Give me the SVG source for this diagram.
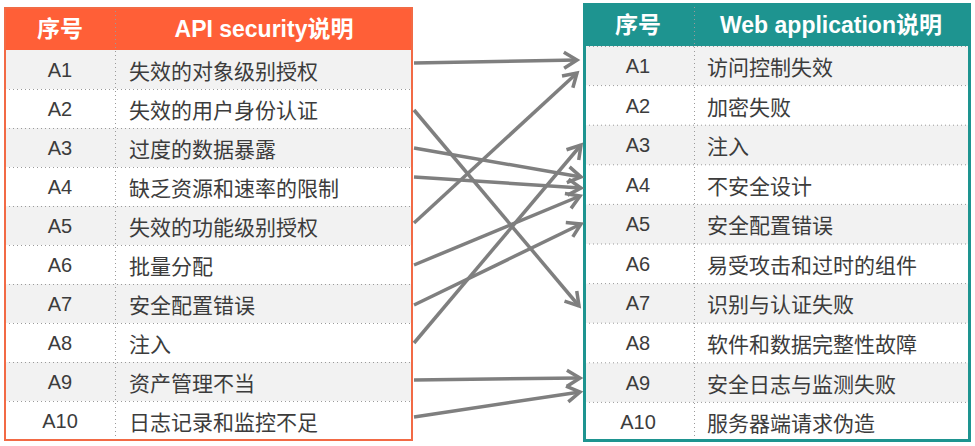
<svg xmlns="http://www.w3.org/2000/svg" width="975" height="446" viewBox="0 0 975 446">
<style>
.hd{font-family:"Liberation Sans","Noto Sans CJK SC",sans-serif;font-weight:bold;font-size:23px;fill:#fff;text-anchor:middle;dominant-baseline:central}
.id{font-family:"Liberation Sans",Arial,sans-serif;font-size:20px;fill:#3c3c3c;text-anchor:middle;dominant-baseline:central}
.tx{font-family:"Noto Sans CJK SC",sans-serif;font-size:21px;fill:#3c3c3c;dominant-baseline:central}
.odd{fill:#f2f2f2}
.even{fill:#ffffff}
.sep{stroke:#9a9a9a;stroke-width:1;stroke-dasharray:1 3;fill:none}
.con{stroke:#7f7f7f;stroke-width:3.5;fill:none;marker-end:url(#ah)}
</style>
<defs>
<marker id="ah" markerUnits="userSpaceOnUse" markerWidth="22" markerHeight="22" viewBox="0 0 22 22" refX="16" refY="11" orient="auto">
<path d="M3,3 L16,11 L3,19" fill="none" stroke="#7f7f7f" stroke-width="3.5" stroke-linejoin="miter"/>
</marker>
</defs>
<rect width="975" height="446" fill="#fff"/>

<!-- Left table -->
<g id="left-table">
<g id="left-header">
<rect x="4" y="7" width="409" height="43" fill="#ff5f37"/>
<text class="hd" x="60" y="29">序号</text>
<text class="hd" x="264" y="29">API security说明</text>
</g>
<g id="L1"><rect class="odd" x="4" y="50" width="409" height="39"/><text class="id" x="60" y="70">A1</text><text class="tx" x="129" y="70">失效的对象级别授权</text></g>
<g id="L2"><rect class="even" x="4" y="89" width="409" height="39"/><text class="id" x="60" y="109">A2</text><text class="tx" x="129" y="109">失效的用户身份认证</text></g>
<g id="L3"><rect class="odd" x="4" y="128" width="409" height="39"/><text class="id" x="60" y="148">A3</text><text class="tx" x="129" y="148">过度的数据暴露</text></g>
<g id="L4"><rect class="even" x="4" y="167" width="409" height="39"/><text class="id" x="60" y="187">A4</text><text class="tx" x="129" y="187">缺乏资源和速率的限制</text></g>
<g id="L5"><rect class="odd" x="4" y="206" width="409" height="39"/><text class="id" x="60" y="226">A5</text><text class="tx" x="129" y="226">失效的功能级别授权</text></g>
<g id="L6"><rect class="even" x="4" y="245" width="409" height="39"/><text class="id" x="60" y="265">A6</text><text class="tx" x="129" y="265">批量分配</text></g>
<g id="L7"><rect class="odd" x="4" y="284" width="409" height="39"/><text class="id" x="60" y="304">A7</text><text class="tx" x="129" y="304">安全配置错误</text></g>
<g id="L8"><rect class="even" x="4" y="323" width="409" height="39"/><text class="id" x="60" y="343">A8</text><text class="tx" x="129" y="343">注入</text></g>
<g id="L9"><rect class="odd" x="4" y="362" width="409" height="39"/><text class="id" x="60" y="382">A9</text><text class="tx" x="129" y="382">资产管理不当</text></g>
<g id="L10"><rect class="even" x="4" y="401" width="409" height="39"/><text class="id" x="60" y="421">A10</text><text class="tx" x="129" y="421">日志记录和监控不足</text></g>
<path class="sep" d="M115.5,7 V440 M5,89.5 H412 M5,128.5 H412 M5,167.5 H412 M5,206.5 H412 M5,245.5 H412 M5,284.5 H412 M5,323.5 H412 M5,362.5 H412 M5,401.5 H412"/>
<rect x="5" y="8" width="407" height="432" fill="none" stroke="#f26a45" stroke-width="2"/>
</g>

<!-- Right table -->
<g id="right-table">
<g id="right-header">
<rect x="583" y="3" width="388" height="43" fill="#1e9490"/>
<text class="hd" x="638" y="25">序号</text>
<text class="hd" x="831" y="25">Web application说明</text>
</g>
<g id="R1"><rect class="odd" x="583" y="46" width="388" height="39.6"/><text class="id" x="638" y="66">A1</text><text class="tx" x="707" y="66">访问控制失效</text></g>
<g id="R2"><rect class="even" x="583" y="85.6" width="388" height="39.6"/><text class="id" x="638" y="105.5">A2</text><text class="tx" x="707" y="105.5">加密失败</text></g>
<g id="R3"><rect class="odd" x="583" y="125.2" width="388" height="39.6"/><text class="id" x="638" y="145">A3</text><text class="tx" x="707" y="145">注入</text></g>
<g id="R4"><rect class="even" x="583" y="164.8" width="388" height="39.6"/><text class="id" x="638" y="184.6">A4</text><text class="tx" x="707" y="184.6">不安全设计</text></g>
<g id="R5"><rect class="odd" x="583" y="204.4" width="388" height="39.6"/><text class="id" x="638" y="224.2">A5</text><text class="tx" x="707" y="224.2">安全配置错误</text></g>
<g id="R6"><rect class="even" x="583" y="244" width="388" height="39.6"/><text class="id" x="638" y="263.8">A6</text><text class="tx" x="707" y="263.8">易受攻击和过时的组件</text></g>
<g id="R7"><rect class="odd" x="583" y="283.6" width="388" height="39.6"/><text class="id" x="638" y="303.4">A7</text><text class="tx" x="707" y="303.4">识别与认证失败</text></g>
<g id="R8"><rect class="even" x="583" y="323.2" width="388" height="39.6"/><text class="id" x="638" y="343">A8</text><text class="tx" x="707" y="343">软件和数据完整性故障</text></g>
<g id="R9"><rect class="odd" x="583" y="362.8" width="388" height="39.6"/><text class="id" x="638" y="382.6">A9</text><text class="tx" x="707" y="382.6">安全日志与监测失败</text></g>
<g id="R10"><rect class="even" x="583" y="402.4" width="388" height="39.6"/><text class="id" x="638" y="422.2">A10</text><text class="tx" x="707" y="422.2">服务器端请求伪造</text></g>
<path class="sep" d="M694.5,3 V441 M585,46.5 H969 M585,85.6 H969 M585,125.2 H969 M585,164.8 H969 M585,204.4 H969 M585,244 H969 M585,283.6 H969 M585,323.2 H969 M585,362.8 H969 M585,402.4 H969"/>
<rect x="584.5" y="4.5" width="385" height="436" fill="none" stroke="#1e9490" stroke-width="3"/>
</g>

<!-- Connectors -->
<g id="connectors">
<line class="con" x1="414" y1="63" x2="577" y2="60"/>
<line class="con" x1="414" y1="110" x2="579" y2="306"/>
<line class="con" x1="414" y1="148" x2="581" y2="177"/>
<line class="con" x1="414" y1="177" x2="581" y2="188"/>
<line class="con" x1="414" y1="223" x2="577" y2="73"/>
<line class="con" x1="414" y1="265" x2="580" y2="196"/>
<line class="con" x1="414" y1="305" x2="581" y2="224"/>
<line class="con" x1="414" y1="343" x2="581" y2="145"/>
<line class="con" x1="414" y1="380" x2="580" y2="378"/>
<line class="con" x1="414" y1="417" x2="580" y2="392"/>
</g>
</svg>
